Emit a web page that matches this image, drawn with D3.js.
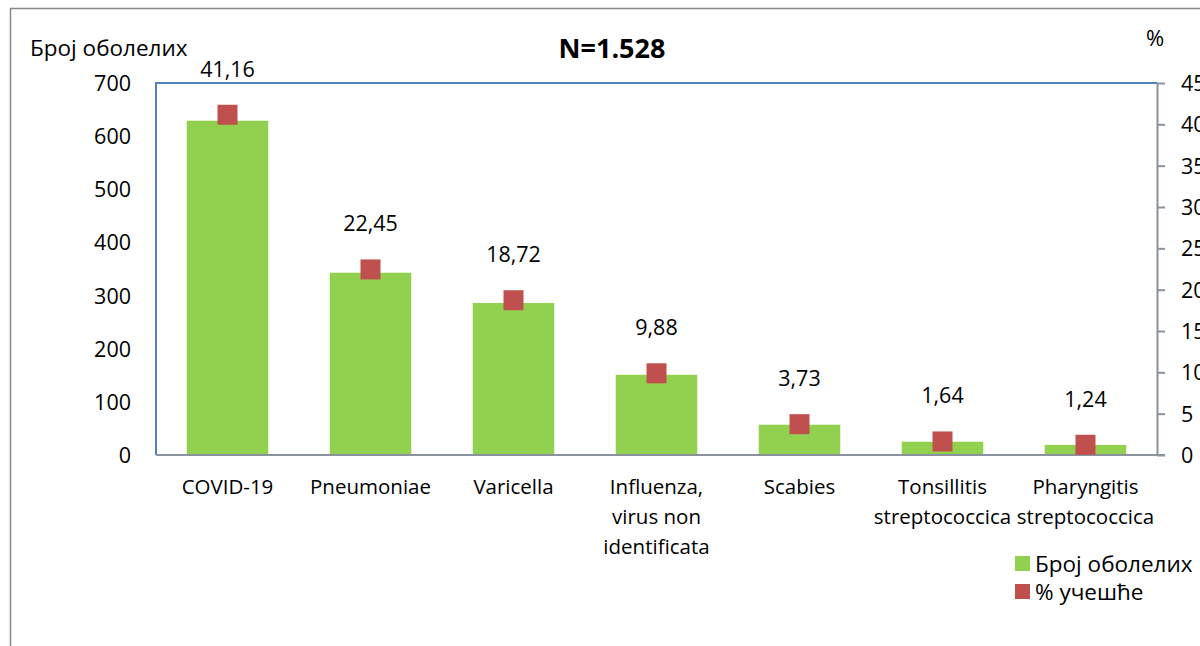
<!DOCTYPE html>
<html>
<head>
<meta charset="utf-8">
<script src="https://cdn.jsdelivr.net/npm/d3@7"></script>
<style>
  body { margin: 0; background: #fff; }
  svg text { font-family: "Open Sans", Lato, sans-serif; fill: #000; }
</style>
</head>
<body>
<div id="root"></div>
<script>
const categories = ['COVID-19', 'Pneumoniae', 'Varicella', 'Influenza, virus non identificata', 'Scabies', 'Tonsillitis streptococcica', 'Pharyngitis streptococcica']
const labelLines = [['COVID-19'], ['Pneumoniae'], ['Varicella'], ['Influenza,', 'virus non', 'identificata'], ['Scabies'], ['Tonsillitis', 'streptococcica'], ['Pharyngitis', 'streptococcica']]
const cases = [629, 343, 286, 151, 57, 25, 19]
const percent = [41.16, 22.45, 18.72, 9.88, 3.73, 1.64, 1.24]
const percentLabels = ['41,16', '22,45', '18,72', '9,88', '3,73', '1,64', '1,24']
const leftTicks = [0, 100, 200, 300, 400, 500, 600, 700]
const rightTicks = [0, 5, 10, 15, 20, 25, 30, 35, 40, 45]

const width = 1200
const height = 646
const plot = { left: 156, right: 1157, top: 83, bottom: 455 }

const svg = d3.select('#root').append('svg')
  .attr('width', width)
  .attr('height', height)

// outer chart frame (cut off at right and bottom)
svg.append('rect')
  .attr('x', 10.5).attr('y', 8.5)
  .attr('width', 1300).attr('height', 700)
  .attr('fill', 'none').attr('stroke', '#888').attr('stroke-width', 1.5)

const x = d3.scaleBand().domain(categories).range([plot.left, plot.right]).paddingInner(0.43).paddingOuter(0.215)
const xOuter = d3.scaleBand().domain(categories).range([plot.left, plot.right])
const yLeft = d3.scaleLinear().domain([0, 700]).range([plot.bottom, plot.top])
const yRight = d3.scaleLinear().domain([0, 45]).range([plot.bottom, plot.top])

// plot area border (top and left blue)
svg.append('path')
  .attr('d', `M${plot.left},${plot.bottom} V${plot.top} H${plot.right}`)
  .attr('fill', 'none').attr('stroke', '#4F81BD').attr('stroke-width', 2)

// bars
svg.append('g').selectAll('rect')
  .data(cases)
  .enter()
  .append('rect')
  .attr('x', (d, i) => x(categories[i]))
  .attr('width', x.bandwidth())
  .attr('y', d => yLeft(d))
  .attr('height', d => plot.bottom - yLeft(d))
  .attr('fill', '#92D050')

// bottom axis line
svg.append('line')
  .attr('x1', plot.left).attr('x2', plot.right + 8)
  .attr('y1', plot.bottom).attr('y2', plot.bottom)
  .attr('stroke', '#8a929c').attr('stroke-width', 2)

// left axis labels
const leftAxis = svg.append('g')
  .attr('transform', 'translate(' + plot.left + ',0)')
  .call(d3.axisLeft(yLeft).tickValues(leftTicks).tickSize(0).tickPadding(25))
leftAxis.select('.domain').remove()
leftAxis.selectAll('text').attr('font-size', 21.5).attr('dy', '0.35em')

// right axis
const rightAxis = svg.append('g')
  .attr('transform', 'translate(' + plot.right + ',0)')
  .call(d3.axisRight(yRight).tickValues(rightTicks).tickSize(8).tickSizeOuter(0).tickPadding(16))
rightAxis.select('.domain').attr('stroke', '#8a929c').attr('stroke-width', 2)
rightAxis.selectAll('.tick line').attr('stroke', '#8a929c').attr('stroke-width', 2)
rightAxis.selectAll('text').attr('font-size', 21.5).attr('dy', '0.35em')

// category labels
const catLabels = svg.append('g').selectAll('text')
  .data(labelLines)
  .enter()
  .append('text')
  .attr('text-anchor', 'middle')
  .attr('font-size', 20.5)
  .attr('x', (d, i) => xOuter(categories[i]) + xOuter.bandwidth() / 2)
  .attr('y', 494)
catLabels.selectAll('tspan')
  .data(d => d)
  .enter()
  .append('tspan')
  .attr('x', function () { return this.parentNode.getAttribute('x') })
  .attr('dy', (d, i) => i === 0 ? 0 : 30)
  .text(d => d)

// percent markers
svg.append('g').selectAll('rect')
  .data(percent)
  .enter()
  .append('rect')
  .attr('x', (d, i) => xOuter(categories[i]) + xOuter.bandwidth() / 2 - 10)
  .attr('y', d => yRight(d) - 10)
  .attr('width', 20).attr('height', 20)
  .attr('fill', '#C0504D')

// percent data labels
svg.append('g').selectAll('text')
  .data(percent)
  .enter()
  .append('text')
  .attr('text-anchor', 'middle')
  .attr('font-size', 21.5)
  .attr('x', (d, i) => xOuter(categories[i]) + xOuter.bandwidth() / 2)
  .attr('y', d => yRight(d) - 38)
  .text((d, i) => percentLabels[i])

// titles
svg.append('text')
  .attr('x', 612).attr('y', 58)
  .attr('text-anchor', 'middle')
  .attr('font-size', 27).attr('font-weight', 'bold')
  .text('N=1.528')

svg.append('text')
  .attr('x', 30).attr('y', 56)
  .attr('font-size', 22.5)
  .text('Број оболелих')

svg.append('text')
  .attr('x', 1146).attr('y', 46)
  .attr('font-size', 22)
  .text('%')

// legend
const legendItems = [['Број оболелих', '#92D050'], ['% учешће', '#C0504D']]
const legend = svg.append('g').selectAll('g')
  .data(legendItems)
  .enter()
  .append('g')
  .attr('transform', (d, i) => 'translate(1015,' + (556 + i * 28) + ')')
legend.append('rect')
  .attr('width', 15).attr('height', 15)
  .attr('fill', d => d[1])
legend.append('text')
  .attr('x', 20).attr('y', 16)
  .attr('font-size', 22.5)
  .text(d => d[0])
</script>
</body>
</html>
